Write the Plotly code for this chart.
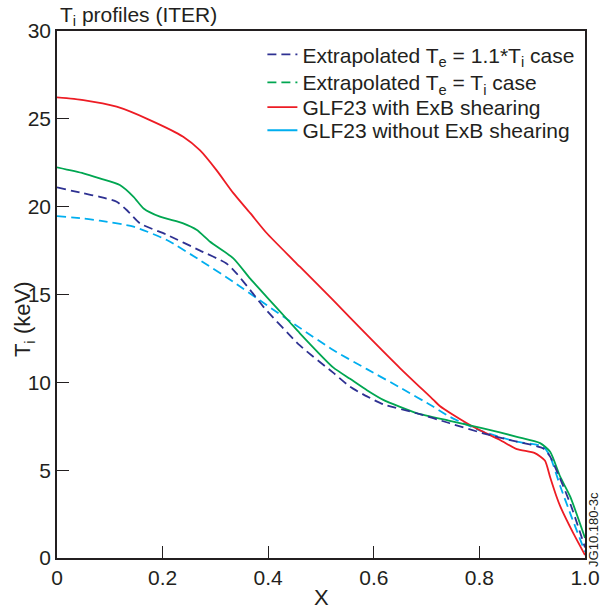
import plotly.graph_objects as go

# ---- data ----
x_red = [0.0, 0.05, 0.113, 0.176, 0.239, 0.271, 0.302, 0.334, 0.366, 0.397, 0.46, 0.523, 0.587,
         0.65, 0.713, 0.725, 0.75, 0.788, 0.839, 0.871, 0.905, 0.924, 0.934, 0.946, 0.953, 0.978, 1.0]
y_red = [26.22, 26.07, 25.69, 24.93, 23.98, 23.2, 22.08, 20.77, 19.63, 18.5, 16.58, 14.68, 12.7,
         10.8, 9.0, 8.65, 8.15, 7.47, 6.72, 6.2, 5.97, 5.55, 4.6, 3.5, 2.95, 1.4, 0.17]

x_green = [0.0, 0.05, 0.081, 0.119, 0.145, 0.164, 0.195, 0.239, 0.265, 0.29, 0.334, 0.366, 0.397,
           0.441, 0.46, 0.523, 0.555, 0.587, 0.618, 0.681, 0.744, 0.807, 0.871, 0.915, 0.934, 0.953,
           0.972, 1.0]
y_green = [22.24, 21.9, 21.61, 21.23, 20.56, 19.9, 19.43, 19.05, 18.67, 18.0, 17.06, 15.9, 14.87,
           13.42, 12.79, 10.85, 10.2, 9.55, 9.0, 8.25, 7.81, 7.38, 6.9, 6.54, 6.05, 4.63,
           3.49, 1.14]

x_navy = [0.0, 0.05, 0.081, 0.113, 0.132, 0.157, 0.208, 0.271, 0.321, 0.34, 0.366, 0.391, 0.46,
          0.523, 0.555, 0.587, 0.618, 0.681, 0.744, 0.807, 0.871, 0.921, 0.934, 0.972, 1.0]
y_navy = [21.1, 20.76, 20.56, 20.28, 19.81, 19.05, 18.4, 17.5, 16.77, 16.2, 15.25, 14.3, 12.1,
          10.55, 9.75, 9.2, 8.75, 8.24, 7.67, 7.1, 6.62, 6.24, 5.77, 3.1, 0.6]

x_cyan = [0.0, 0.05, 0.081, 0.145, 0.208, 0.271, 0.334, 0.397, 0.46, 0.523, 0.587, 0.65, 0.713,
          0.744, 0.807, 0.871, 0.921, 0.934, 0.953, 0.975, 1.0]
y_cyan = [19.46, 19.33, 19.2, 18.86, 18.1, 16.95, 15.72, 14.4, 13.1, 11.84, 10.75, 9.7, 8.61,
          8.04, 7.19, 6.62, 6.34, 5.77, 4.1, 2.3, 0.35]

x_tickvals = [0, 0.2, 0.4, 0.6, 0.8, 1.0]
x_ticktext = ["0", "0.2", "0.4", "0.6", "0.8", "1.0"]
y_tickvals = [0, 5, 10, 15, 20, 25, 30]

names = ["Extrapolated T<sub>e</sub> = 1.1*T<sub>i</sub> case",
         "Extrapolated T<sub>e</sub> = T<sub>i</sub> case",
         "GLF23 with ExB shearing",
         "GLF23 without ExB shearing"]

NAVY = "#2E3192"
GREEN = "#00A651"
RED = "#ED1C24"
CYAN = "#00AEEF"
DASH = "9px,5px"
FONT = "Liberation Sans, Arial, Helvetica, sans-serif"
LW = 1.8

fig = go.Figure()

# plotted curves
fig.add_trace(go.Scatter(x=x_cyan, y=y_cyan, mode="lines", showlegend=False,
                         line=dict(color=CYAN, width=LW, dash=DASH, shape="spline", smoothing=0.6)))
fig.add_trace(go.Scatter(x=x_red, y=y_red, mode="lines", showlegend=False,
                         line=dict(color=RED, width=LW, shape="spline", smoothing=0.6)))
fig.add_trace(go.Scatter(x=x_green, y=y_green, mode="lines", showlegend=False,
                         line=dict(color=GREEN, width=LW, shape="spline", smoothing=0.6)))
fig.add_trace(go.Scatter(x=x_navy, y=y_navy, mode="lines", showlegend=False,
                         line=dict(color=NAVY, width=LW, dash=DASH, shape="spline", smoothing=0.6)))

# legend entries (styled as in the reference legend), one legend per row
legend_styles = [(NAVY, DASH), (GREEN, DASH), (RED, "solid"), (CYAN, "solid")]
legend_ids = ["legend", "legend2", "legend3", "legend4"]
legend_rows = [0.955, 0.902, 0.855, 0.811]
for nm, (c, d), lid in zip(names, legend_styles, legend_ids):
    fig.add_trace(go.Scatter(x=[None], y=[None], mode="lines", name=nm, legend=lid,
                             line=dict(color=c, width=LW, dash=d)))

layout_legends = {}
for lid, ly in zip(legend_ids, legend_rows):
    layout_legends[lid] = dict(x=0.389, y=ly, xanchor="left", yanchor="middle",
                               bgcolor="rgba(0,0,0,0)", font=dict(size=21),
                               itemwidth=30)

fig.update_layout(
    width=602, height=610, autosize=False,
    margin=dict(l=57, r=17, t=31, b=52, autoexpand=False),
    paper_bgcolor="white", plot_bgcolor="white",
    font=dict(family=FONT, size=21, color="#231F20"),
    showlegend=True,
    **layout_legends,
)

fig.update_xaxes(range=[0, 1.0], tickvals=x_tickvals, ticktext=x_ticktext,
                 ticks="inside", ticklen=12, tickwidth=1.2, tickcolor="#231F20",
                 showline=True, linecolor="#231F20", linewidth=1.5, mirror=True,
                 showgrid=False, zeroline=False, tickfont=dict(size=21))
fig.update_yaxes(range=[0, 30], tickvals=y_tickvals,
                 ticks="inside", ticklen=12, tickwidth=1.2, tickcolor="#231F20",
                 showline=True, linecolor="#231F20", linewidth=1.5, mirror=True,
                 showgrid=False, zeroline=False, tickfont=dict(size=21))

# titles
fig.add_annotation(text="T<sub>i</sub> profiles (ITER)", xref="paper", yref="paper",
                   x=0, y=1, xshift=1, yshift=15, xanchor="left", yanchor="middle",
                   showarrow=False, font=dict(size=21))
fig.add_annotation(text="T<sub>i</sub> (keV)", xref="paper", yref="y",
                   x=0, y=13.6, xshift=-33, xanchor="center", yanchor="middle", textangle=-90,
                   showarrow=False, font=dict(size=22))
fig.add_annotation(text="X", xref="paper", yref="paper",
                   x=0.5, y=0, yshift=-39, xanchor="center", yanchor="middle",
                   showarrow=False, font=dict(size=22))
fig.add_annotation(text="JG10.180-3c", xref="paper", yref="y",
                   x=1, y=1.6, xshift=9, xanchor="center", yanchor="middle", textangle=-90,
                   showarrow=False, font=dict(size=13))

fig.write_html("out.html", config={"responsive": False, "displayModeBar": False},
               post_script="document.body.style.margin='0';document.body.style.overflow='hidden';")
